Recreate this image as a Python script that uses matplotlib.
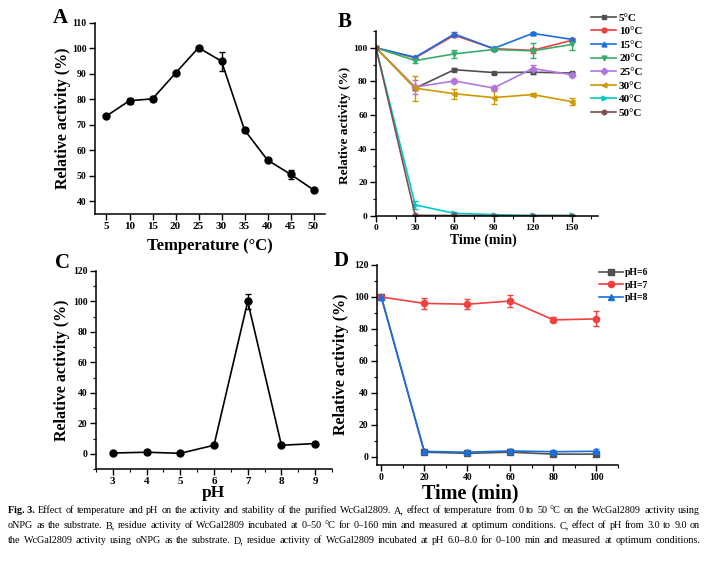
import numpy as np
import matplotlib
matplotlib.use('Agg')
import matplotlib.pyplot as plt
from matplotlib.ticker import MultipleLocator

# Panel A: effect of temperature
tempA = [5, 10, 15, 20, 25, 30, 35, 40, 45, 50]
actA = [73.5, 79.5, 80.2, 90.3, 100.3, 95.0, 68.0, 56.2, 50.6, 44.5]
errA = [0.5, 1.2, 1.0, 0.5, 0.5, 3.8, 0.8, 0.5, 1.8, 0.6]

# Panel B: thermal stability
timeB = [0, 30, 60, 90, 120, 150]
labelsB = ['5°C', '10°C', '15°C', '20°C', '25°C', '30°C', '40°C', '50°C']
actB = [
    [100, 76.0, 87.0, 85.3, 85.5, 85.0],
    [100, 94.0, 107.5, 99.5, 98.5, 104.5],
    [100, 94.4, 108.2, 99.6, 108.6, 105.0],
    [100, 92.4, 96.4, 99.0, 98.2, 102.0],
    [100, 76.7, 80.3, 76.1, 87.7, 84.0],
    [100, 76.0, 72.7, 70.4, 72.2, 68.0],
    [100, 6.6, 1.6, 0.8, 0.3, 0.3],
    [100, 0.4, 0.3, 0.2, 0.2, 0.2],
]
errB = [
    [0, 1.0, 0.8, 0.6, 0.8, 0.8],
    [0, 0.8, 1.0, 0.8, 1.5, 1.0],
    [0, 0.8, 1.2, 0.8, 0.8, 0.8],
    [0, 1.5, 2.5, 1.0, 4.5, 3.0],
    [0, 4.0, 1.0, 1.0, 2.0, 1.5],
    [0, 7.5, 3.0, 3.8, 0.8, 2.0],
    [0, 2.5, 0.8, 0.3, 0.2, 0.2],
    [0, 0.3, 0.2, 0.2, 0.2, 0.2],
]
colorsB = ['#515151', '#F14040', '#1A6FDF', '#37AD6B', '#B177DE', '#CC9900', '#00CBCC', '#7D4E4E']
markersB = ['s', 'o', '^', 'v', 'D', '<', '>', 'h']

# Panel C: effect of pH
phC = [3, 4, 5, 6, 7, 8, 9]
actC = [0.5, 1.0, 0.3, 5.6, 100.0, 5.6, 6.7]
errC = [0.3, 0.3, 0.3, 0.5, 5.0, 0.5, 0.5]

# Panel D: pH stability
timeD = [0, 20, 40, 60, 80, 100]
labelsD = ['pH=6', 'pH=7', 'pH=8']
actD = [
    [100, 3.0, 2.3, 3.0, 1.8, 1.8],
    [100, 96.0, 95.5, 97.5, 85.7, 86.3],
    [100, 3.5, 3.0, 3.8, 3.3, 3.6],
]
errD = [
    [0.5, 0.8, 0.8, 0.8, 0.8, 0.8],
    [0.5, 3.5, 3.0, 3.5, 1.5, 4.7],
    [0.5, 1.0, 1.0, 1.2, 1.0, 1.2],
]
colorsD = ['#515151', '#F14040', '#1A6FDF']
markersD = ['s', 'o', '^']

caption = [
    'Effect of temperature and pH on the activity and stability of the purified WcGal2809. A, effect of temperature from 0 to 50 \u00b0C on the WcGal2809 activity using',
    'oNPG as the substrate. B, residue activity of WcGal2809 incubated at 0\u201350 \u00b0C for 0\u2013160 min and measured at optimum conditions. C, effect of pH from 3.0 to 9.0 on',
    'the WcGal2809 activity using oNPG as the substrate. D, residue activity of WcGal2809 incubated at pH 6.0\u20138.0 for 0\u2013100 min and measured at optimum conditions.',
]

W, H = 706, 563
plt.rcParams['font.family'] = ['Liberation Serif', 'DejaVu Serif']
plt.rcParams['font.weight'] = 'bold'

fig = plt.figure(figsize=(W / 100, H / 100), dpi=100)


def px_axes(l, t, r, b):
    return fig.add_axes([l / W, 1 - b / H, (r - l) / W, (b - t) / H])


def px_text(x, y, s, **kw):
    return fig.text(x / W, 1 - y / H, s, **kw)


def style(ax, xfs=8, yfs=7):
    for side in ['top', 'right']:
        ax.spines[side].set_visible(False)
    for side in ['left', 'bottom']:
        ax.spines[side].set_linewidth(1.1)
    ax.tick_params(which='major', direction='out', length=4, width=1.0, pad=2)
    ax.tick_params(which='minor', direction='out', length=2, width=0.8)
    ax.tick_params(axis='x', labelsize=xfs)
    ax.tick_params(axis='y', labelsize=yfs)
    for lab in ax.get_xticklabels() + ax.get_yticklabels():
        lab.set_fontweight('bold')


def justify(tokens, x0, x1, y, size):
    # tokens: list of (word, weight); y is the baseline
    texts = [px_text(0, y, w, ha='left', va='baseline', fontsize=size, fontweight=wt) for w, wt in tokens]
    r = fig.canvas.get_renderer()
    widths = [t.get_window_extent(r).width for t in texts]
    gap = (x1 - x0 - sum(widths)) / (len(texts) - 1)
    x = x0
    for t, w in zip(texts, widths):
        t.set_position((x / W, 1 - y / H))
        x += w + gap


# ---- A
ax = px_axes(95, 23, 325, 214)
ax.errorbar(tempA, actA, yerr=errA, color='black', marker='o', ms=5, lw=1.2,
            elinewidth=1, capsize=2, capthick=1)
ax.set_xlim(2.5, 52.5)
ax.set_ylim(35, 110)
ax.set_xticks(tempA)
ax.set_yticks(np.arange(40, 111, 10))
style(ax)
px_text(63, 118, 'Relative activity (%)', rotation=90, ha='center', va='center', fontsize=11.5, fontweight='bold')
px_text(210, 246, 'Temperature (\u00b0C)', ha='center', va='center', fontsize=12, fontweight='bold')
px_text(60, 18, 'A', ha='center', va='center', fontsize=15, fontweight='bold')

# ---- B
ax = px_axes(376, 31, 598, 216)
for i in range(len(labelsB)):
    ax.errorbar(timeB, actB[i], yerr=errB[i], color=colorsB[i], marker=markersB[i], ms=3.5,
                lw=1.2, elinewidth=1, capsize=2, capthick=1, label=labelsB[i])
ax.set_xlim(0, 170)
ax.set_ylim(0, 110)
ax.set_xticks(timeB)
ax.set_yticks(np.arange(0, 101, 20))
ax.xaxis.set_minor_locator(MultipleLocator(15))
ax.yaxis.set_minor_locator(MultipleLocator(10))
style(ax, xfs=6.8, yfs=6.8)
handles, labels = ax.get_legend_handles_labels()
handles = [h[0] for h in handles]
fig.legend(handles, labels, loc='upper left', bbox_to_anchor=(591 / W, 1 - 13 / H), frameon=False,
           fontsize=8, handlelength=2.25, handletextpad=0.27, labelspacing=0.34,
           borderpad=0, borderaxespad=0)
px_text(345, 125, 'Relative activity (%)', rotation=90, ha='center', va='center', fontsize=9.5, fontweight='bold')
px_text(483, 240, 'Time (min)', ha='center', va='center', fontsize=10, fontweight='bold')
px_text(345, 22, 'B', ha='center', va='center', fontsize=15, fontweight='bold')

# ---- C
ax = px_axes(96, 271, 332, 469)
ax.errorbar(phC, actC, yerr=errC, color='black', marker='o', ms=5, lw=1.2,
            elinewidth=1, capsize=2, capthick=1)
ax.set_xlim(2.5, 9.5)
ax.set_ylim(-10, 120)
ax.set_xticks(phC)
ax.set_yticks(np.arange(0, 121, 20))
ax.xaxis.set_minor_locator(MultipleLocator(0.5))
ax.yaxis.set_minor_locator(MultipleLocator(10))
style(ax)
px_text(62, 370, 'Relative activity (%)', rotation=90, ha='center', va='center', fontsize=11.5, fontweight='bold')
px_text(213, 493, 'pH', ha='center', va='center', fontsize=12.5, fontweight='bold')
px_text(62, 263, 'C', ha='center', va='center', fontsize=15, fontweight='bold')

# ---- D
ax = px_axes(377, 265, 618, 465)
for i in range(len(labelsD)):
    ax.errorbar(timeD, actD[i], yerr=errD[i], color=colorsD[i], marker=markersD[i], ms=4.5,
                lw=1.2, elinewidth=1, capsize=2, capthick=1, label=labelsD[i])
ax.set_xlim(-2, 110)
ax.set_ylim(-5, 120)
ax.set_xticks(timeD)
ax.set_yticks(np.arange(0, 121, 20))
ax.xaxis.set_minor_locator(MultipleLocator(10))
ax.yaxis.set_minor_locator(MultipleLocator(10))
style(ax, xfs=7, yfs=7)
handles, labels = ax.get_legend_handles_labels()
handles = [h[0] for h in handles]
fig.legend(handles, labels, loc='upper left', bbox_to_anchor=(599 / W, 1 - 268 / H), frameon=False,
           fontsize=7, handlelength=2.5, handletextpad=0.2, labelspacing=0.37,
           borderpad=0, borderaxespad=0)
px_text(341, 364, 'Relative activity (%)', rotation=90, ha='center', va='center', fontsize=11.5, fontweight='bold')
px_text(470, 493, 'Time (min)', ha='center', va='center', fontsize=14.5, fontweight='bold')
px_text(341, 261, 'D', ha='center', va='center', fontsize=15, fontweight='bold')

# ---- caption (justified lines)
first = [('Fig. 3.', 'bold')] + [(w, 'normal') for w in caption[0].split(' ')]
justify(first, 8, 700, 513, 7.3)
justify([(w, 'normal') for w in caption[1].split(' ')], 8, 700, 528, 7.3)
justify([(w, 'normal') for w in caption[2].split(' ')], 8, 700, 543, 7.3)

fig.savefig('out.png', dpi=100)
